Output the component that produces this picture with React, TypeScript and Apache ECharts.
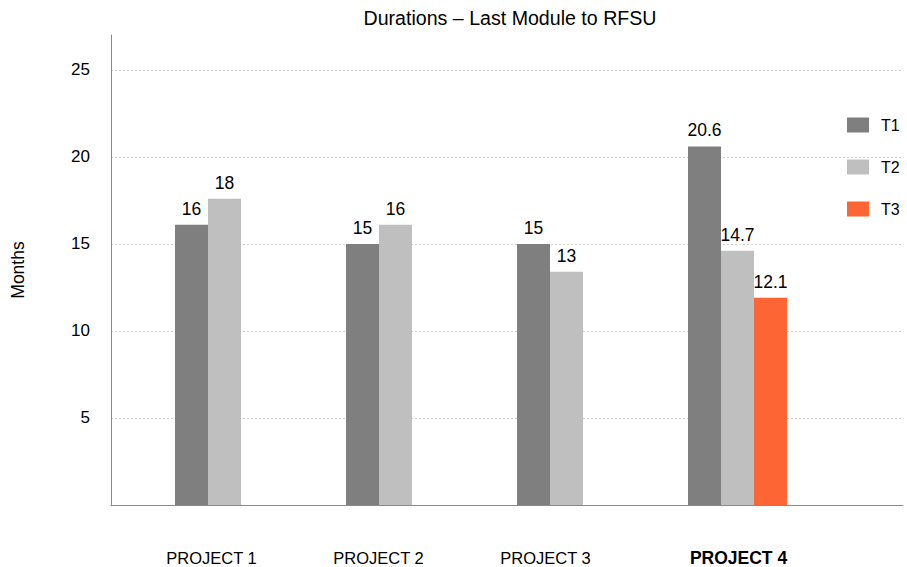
import React, { useEffect, useRef } from "react";
import * as echarts from "echarts";

const categories = ["PROJECT 1", "PROJECT 2", "PROJECT 3", "PROJECT 4"];
const seriesNames = ["T1", "T2", "T3"];
const t1Values = [16.1, 15.0, 15.0, 20.6];
const t2Values = [17.6, 16.1, 13.4, 14.6];
const t3Values: (number | null)[] = [null, null, null, 11.9];
const t1Labels = ["16", "15", "15", "20.6"];
const t2Labels = ["18", "16", "13", "14.7"];
const t3Labels = ["", "", "", "12.1"];
const yTicks = [5, 10, 15, 20, 25];
const colors = ["#7f7f7f", "#bfbfbf", "#fe6535"];

const FONT = "'Liberation Sans', Arial, Helvetica, sans-serif";

export default function App() {
  const ref = useRef<HTMLDivElement>(null);
  useEffect(() => {
    if (!ref.current) return;
    const chart = echarts.init(ref.current, null, { renderer: "svg" });
    const values = [t1Values, t2Values, t3Values];
    const labels = [t1Labels, t2Labels, t3Labels];
    chart.setOption({
      animation: false,
      backgroundColor: "#ffffff",
      textStyle: { fontFamily: FONT },
      title: {
        text: "Durations \u2013 Last Module to RFSU",
        left: 505,
        textAlign: "center",
        top: 3,
        textStyle: { fontFamily: FONT, fontSize: 19.6, fontWeight: "normal", color: "#000" },
      },
      legend: {
        orient: "vertical",
        left: 842,
        top: 112,
        itemWidth: 22,
        itemHeight: 15,
        itemGap: 26,
        icon: "rect",
        data: seriesNames,
        textStyle: { fontFamily: FONT, fontSize: 16, color: "#000", padding: [0, 0, 0, 7] },
      },
      grid: [
        { left: 111, right: 4, top: 35, bottom: 62 },
        { left: 139, right: 84, top: 35, bottom: 62 },
      ],
      xAxis: [
        {
          type: "value",
          gridIndex: 0,
          min: 0,
          max: 1,
          axisLine: { show: true, lineStyle: { color: "#8a8a8a", width: 1 } },
          axisTick: { show: false },
          axisLabel: { show: false },
          splitLine: { show: false },
        },
        {
          type: "category",
          gridIndex: 1,
          data: categories,
          axisLine: { show: false },
          axisTick: { show: false },
          axisLabel: {
            margin: 44,
            interval: 0,
            formatter: (v: string, i: number) => `{p${i}|${v}}`,
            rich: {
              p0: { fontFamily: FONT, fontSize: 16.5, color: "#000", padding: [0, 26, 0, 0] },
              p1: { fontFamily: FONT, fontSize: 16.5, color: "#000", padding: [0, 34, 0, 0] },
              p2: { fontFamily: FONT, fontSize: 16.5, color: "#000", padding: [0, 42, 0, 0] },
              p3: { fontFamily: FONT, fontSize: 17.5, fontWeight: "bold", color: "#000", padding: [0, 0, 0, 2] },
            },
          },
        },
      ],
      yAxis: [
        {
          type: "value",
          gridIndex: 0,
          min: 0,
          max: 27,
          interval: 5,
          name: "Months",
          nameLocation: "middle",
          nameGap: 84,
          nameRotate: 90,
          nameTextStyle: { fontFamily: FONT, fontSize: 17.5, color: "#000" },
          axisLine: { show: true, lineStyle: { color: "#8a8a8a", width: 1 } },
          axisTick: { show: false },
          axisLabel: {
            margin: 21,
            fontFamily: FONT,
            fontSize: 17,
            color: "#000",
            showMaxLabel: false,
            formatter: (v: number) => (yTicks.indexOf(v) >= 0 ? String(v) : ""),
          },
          splitLine: {
            show: true,
            showMinLine: false,
            showMaxLine: false,
            lineStyle: { color: "#cfcfcf", type: [2, 2], width: 1 },
          },
        },
        {
          type: "value",
          gridIndex: 1,
          min: 0,
          max: 27,
          interval: 5,
          show: false,
          splitLine: { show: false },
        },
      ],
      series: seriesNames.map((name, si) => ({
        name,
        type: "bar",
        xAxisIndex: 1,
        yAxisIndex: 1,
        barWidth: 33,
        barGap: "0%",
        data: values[si],
        itemStyle: { color: colors[si] },
        label: {
          show: true,
          position: "top",
          distance: 7,
          fontFamily: FONT,
          fontSize: 17.5,
          color: "#000",
          formatter: (p: any) => labels[si][p.dataIndex],
        },
      })),
    });
    return () => chart.dispose();
  }, []);
  return <div ref={ref} style={{ width: 907, height: 567, position: "absolute", left: 0, top: 0 }} />;
}
